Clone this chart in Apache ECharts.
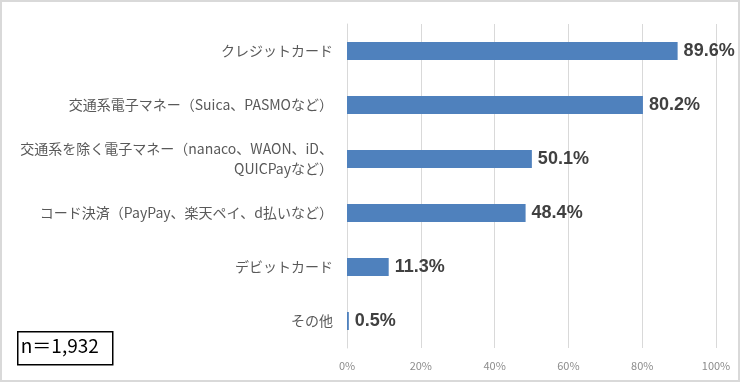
<!DOCTYPE html>
<html><head><meta charset="utf-8">
<script src="https://cdn.jsdelivr.net/npm/echarts@6/dist/echarts.min.js"></script>
<style>html,body{margin:0;padding:0;background:#fff}#c{width:740px;height:382px;box-sizing:border-box;border:2px solid #d9d9d9}</style>
</head><body><div id="c"></div>
<script>
const categories = ['クレジットカード','交通系電子マネー（Suica、PASMOなど）','交通系を除く電子マネー（nanaco、WAON、iD、\nQUICPayなど）','コード決済（PayPay、楽天ペイ、d払いなど）','デビットカード','その他'];
const values = [89.6, 80.2, 50.1, 48.4, 11.3, 0.5];
const tickLabels = ['0%','20%','40%','60%','80%','100%'];
const chart = echarts.init(document.getElementById('c'), null, {renderer:'canvas'});
chart.setOption({
  animation:false,
  grid:{left:345,right:22,top:22,bottom:32,containLabel:false},
  xAxis:{type:'value',min:0,max:100,interval:20,
    axisLine:{show:false},axisTick:{show:false},
    splitLine:{lineStyle:{color:'#d9d9d9',width:1}},
    axisLabel:{color:'#8c8c8c',fontSize:11,fontFamily:'"Noto Sans CJK JP", sans-serif',margin:12,
      formatter:(v)=>tickLabels[v/20]}},
  yAxis:{type:'category',inverse:true,data:categories,
    axisLine:{show:true,lineStyle:{color:'#d9d9d9'}},axisTick:{show:false},
    axisLabel:{color:'#595959',fontSize:14,fontFamily:'"Noto Sans CJK JP", sans-serif',margin:14,lineHeight:20}},
  series:[{type:'bar',data:values,barWidth:18,itemStyle:{color:'#4f81bd'},
    label:{show:true,position:'right',distance:6,color:'#404040',fontSize:18,fontWeight:'bold',
      fontFamily:'"Liberation Sans", Arial, sans-serif',formatter:(p)=>p.value.toFixed(1)+'%'}}],
  graphic:[{type:'group',left:15,top:329,children:[
    {type:'rect',shape:{x:0,y:0,width:95,height:33},style:{fill:'#fff',stroke:'#000',lineWidth:1.5}},
    {type:'text',x:3,y:5,style:{text:'n＝1,932',fontSize:19,fill:'#000',fontFamily:'"Noto Sans CJK JP", sans-serif'}}
  ]}]
});
</script></body></html>
